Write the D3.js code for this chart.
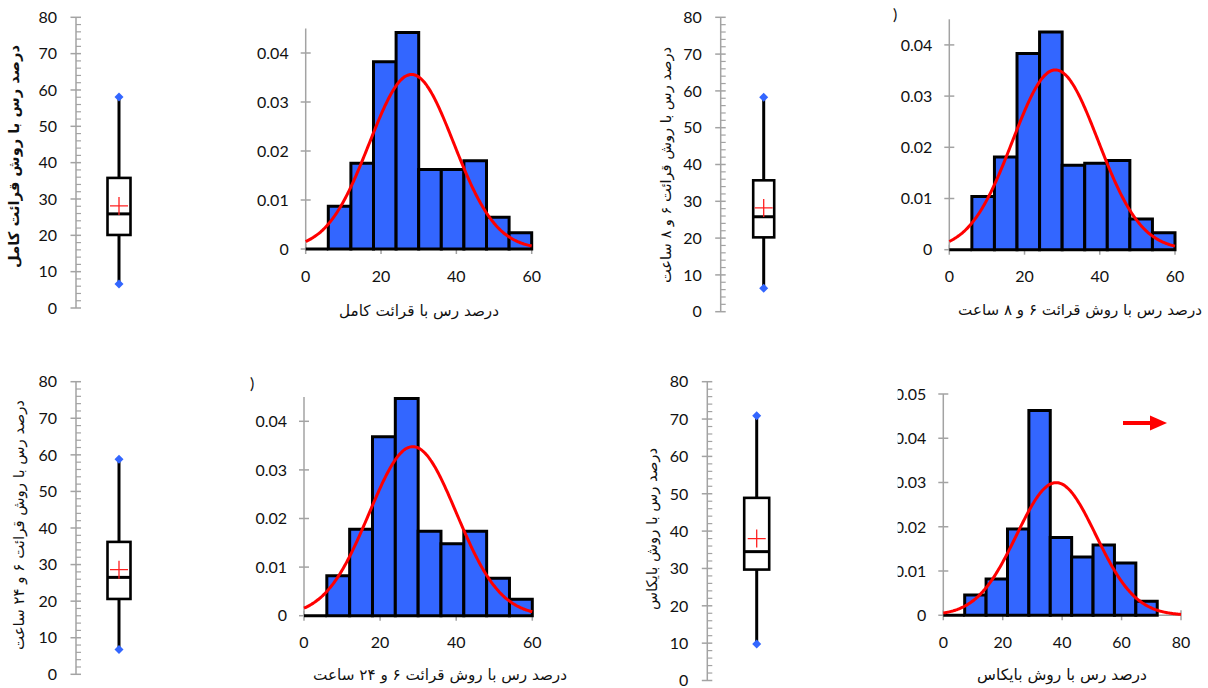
<!DOCTYPE html>
<html>
<head>
<meta charset="utf-8">
<script src="https://cdn.jsdelivr.net/npm/d3@7"></script>
<style>
  html, body { margin: 0; padding: 0; background: #fff; }
  svg { display: block; }
</style>
</head>
<body>
<svg id="chart" width="1208" height="688"></svg>
<script>
// ---- Data: clay percentage measured by four methods ----
const methods = ["full", "h6_8", "h6_24", "bouyoucos"];

const yTitles = [
  "درصد رس با روش قرائت کامل",
  "درصد رس با روش قرائت ۶ و ۸ ساعت",
  "درصد رس با روش قرائت ۶ و ۲۴ ساعت",
  "درصد رس با روش بایکاس"
];
const xTitles = [
  "درصد رس با قرائت کامل",
  "درصد رس با روش قرائت ۶ و ۸ ساعت",
  "درصد رس با روش قرائت ۶ و ۲۴ ساعت",
  "درصد رس با روش بایکاس"
];

// box-plot statistics (%)
const whiskerLow  = [6.6, 6.4, 6.8, 9.8];
const quartile1   = [20.1, 20.2, 20.6, 29.7];
const medians     = [25.9, 25.8, 26.5, 34.5];
const quartile3   = [35.8, 35.7, 36.2, 48.9];
const whiskerHigh = [58.1, 58.3, 58.8, 70.9];
const means       = [28.1, 28.2, 28.6, 38.0];
const stdDevs     = [11.2, 11.36, 11.47, 13.31];

// histogram densities, bins start at 0
const binWidths = [6, 6, 6, 7.2];
const densityFull      = [0, 0.0087, 0.0175, 0.0382, 0.0442, 0.0162, 0.0162, 0.0180, 0.0065, 0.0033];
const density6and8     = [0, 0.0104, 0.0181, 0.0383, 0.0425, 0.0165, 0.0169, 0.0174, 0.0060, 0.0033];
const density6and24    = [0, 0.0082, 0.0178, 0.0368, 0.0447, 0.0174, 0.0148, 0.0174, 0.0077, 0.0034];
const densityBouyoucos = [0, 0.0046, 0.0082, 0.0195, 0.0463, 0.0176, 0.0132, 0.0159, 0.0118, 0.0032];
const densities = [densityFull, density6and8, density6and24, densityBouyoucos];

// axis ticks
const boxTickValues = [0, 10, 20, 30, 40, 50, 60, 70, 80];
const histYTicks = [0, 0.01, 0.02, 0.03, 0.04];
const histYTicksWide = [0, 0.01, 0.02, 0.03, 0.04, 0.05];
const histXTicks = [0, 20, 40, 60];
const histXTicksWide = [0, 20, 40, 60, 80];

// ---- Layout ----
const layouts = [
  { box: { axisX: 76, y0: 308, y80: 17.3, cx: 119, w: 23 },
    yTitle: { x: 14, y: 156.5, bold: true, len: 223 },
    hist: { x0: 305.7, x1: 531.7, y0: 249, per: 49, xMax: 60, yMax: 0.045, xt: histXTicks, yt: histYTicks },
    xTitle: { x: 419, y: 316, len: 160 } },
  { box: { axisX: 720.7, y0: 311.7, y80: 17.3, cx: 763.7, w: 21 },
    yTitle: { x: 666, y: 165, bold: false, len: 236 },
    hist: { x0: 949.3, x1: 1175, y0: 249.7, per: 51.2, xMax: 60, yMax: 0.045, xt: histXTicks, yt: histYTicks },
    xTitle: { x: 1080, y: 315, len: 244 } },
  { box: { axisX: 76, y0: 674.3, y80: 381.7, cx: 119, w: 23 },
    yTitle: { x: 19, y: 525, bold: false, len: 250 },
    hist: { x0: 304, x1: 532.3, y0: 615.7, per: 48.6, xMax: 60, yMax: 0.045, xt: histXTicks, yt: histYTicks },
    xTitle: { x: 440, y: 680, len: 254 } },
  { box: { axisX: 707.3, y0: 680.5, y80: 381.7, cx: 756.7, w: 25 },
    yTitle: { x: 652, y: 529, bold: false, len: 162 },
    hist: { x0: 943.3, x1: 1181, y0: 615.3, per: 44.26, xMax: 80, yMax: 0.05, xt: histXTicksWide, yt: histYTicksWide, clipFrame: true },
    xTitle: { x: 1062, y: 680, len: 170 } }
];

const numFont = "Lato, 'Liberation Sans', sans-serif";
const faFont = "'DejaVu Sans', sans-serif";
const axisGray = "#a3a3a3";
const textColor = "#111";
const barBlue = "#3366ff";

const svg = d3.select("#chart");
svg.append("rect").attr("width", 1208).attr("height", 688).attr("fill", "#fff");

const defs = svg.append("defs");

// scale a text's font size so it spans the wanted length
function fitText(sel, base, len) {
  const w = sel.node().getComputedTextLength();
  if (w > 0) sel.attr("font-size", (base * len / w).toFixed(2));
}

methods.forEach((m, i) => {
  const L = layouts[i];

  // ---------- Box plot ----------
  const B = L.box;
  const y = d3.scaleLinear().domain([0, 80]).range([B.y0, B.y80]);
  const gb = svg.append("g").attr("class", "box-" + m);

  gb.append("line")
    .attr("x1", B.axisX).attr("x2", B.axisX)
    .attr("y1", y(0)).attr("y2", y(80))
    .attr("stroke", axisGray).attr("stroke-width", 1.5);

  gb.selectAll("line.minor")
    .data(d3.range(0, 81, 2).filter(v => v % 10 !== 0))
    .join("line").attr("class", "minor")
    .attr("x1", B.axisX).attr("x2", B.axisX + 5)
    .attr("y1", d => y(d)).attr("y2", d => y(d))
    .attr("stroke", axisGray).attr("stroke-width", 1.2);

  gb.selectAll("line.major")
    .data(boxTickValues)
    .join("line").attr("class", "major")
    .attr("x1", B.axisX - 5.5).attr("x2", B.axisX + 5)
    .attr("y1", d => y(d)).attr("y2", d => y(d))
    .attr("stroke", axisGray).attr("stroke-width", 1.5);

  gb.selectAll("text.tick")
    .data(boxTickValues)
    .join("text").attr("class", "tick")
    .attr("x", B.axisX - 19).attr("y", d => y(d)).attr("dy", "0.36em")
    .attr("text-anchor", "end")
    .attr("font-family", numFont).attr("font-size", 16)
    .attr("fill", textColor)
    .text(d => d);

  // whiskers
  gb.append("line")
    .attr("x1", B.cx).attr("x2", B.cx)
    .attr("y1", y(quartile3[i])).attr("y2", y(whiskerHigh[i]))
    .attr("stroke", "#000").attr("stroke-width", 3);
  gb.append("line")
    .attr("x1", B.cx).attr("x2", B.cx)
    .attr("y1", y(quartile1[i])).attr("y2", y(whiskerLow[i]))
    .attr("stroke", "#000").attr("stroke-width", 3);

  // box
  gb.append("rect")
    .attr("x", B.cx - B.w / 2).attr("width", B.w)
    .attr("y", y(quartile3[i])).attr("height", y(quartile1[i]) - y(quartile3[i]))
    .attr("fill", "#fff").attr("stroke", "#000").attr("stroke-width", 2.6);

  // median
  gb.append("line")
    .attr("x1", B.cx - B.w / 2).attr("x2", B.cx + B.w / 2)
    .attr("y1", y(medians[i])).attr("y2", y(medians[i]))
    .attr("stroke", "#000").attr("stroke-width", 3);

  // mean
  const my = y(means[i]);
  gb.append("path")
    .attr("d", `M${B.cx - 9},${my}H${B.cx + 9}M${B.cx},${my - 9}V${my + 9}`)
    .attr("stroke", "#ff2020").attr("stroke-width", 1.3).attr("fill", "none");

  // whisker-end markers
  gb.selectAll("path.extreme")
    .data([whiskerLow[i], whiskerHigh[i]])
    .join("path").attr("class", "extreme")
    .attr("d", d => {
      const yy = y(d), r = 4.5;
      return `M${B.cx},${yy - r}L${B.cx + r},${yy}L${B.cx},${yy + r}L${B.cx - r},${yy}Z`;
    })
    .attr("fill", barBlue);

  // y title
  const t = L.yTitle;
  const yt = gb.append("text")
    .attr("transform", `translate(${t.x},${t.y}) rotate(-90)`)
    .attr("text-anchor", "middle").attr("dy", "0.35em")
    .attr("font-family", faFont).attr("font-size", 15)
    .attr("font-weight", t.bold ? "bold" : "normal")
    .attr("fill", textColor)
    .text(yTitles[i]);
  fitText(yt, 15, t.len);

  // ---------- Histogram ----------
  const H = L.hist;
  const x = d3.scaleLinear().domain([0, H.xMax]).range([H.x0, H.x1]);
  const yh = d3.scaleLinear().domain([0, H.yMax]).range([H.y0, H.y0 - H.per * H.yMax * 100]);
  const gh = svg.append("g").attr("class", "hist-" + m);

  // axes lines
  gh.append("line")
    .attr("x1", x(0)).attr("x2", x(H.xMax)).attr("y1", yh(0)).attr("y2", yh(0))
    .attr("stroke", axisGray).attr("stroke-width", 1.5);
  gh.append("line")
    .attr("x1", x(0)).attr("x2", x(0)).attr("y1", yh(0)).attr("y2", yh(H.yMax))
    .attr("stroke", axisGray).attr("stroke-width", 1.5);

  gh.selectAll("line.xt").data(H.xt).join("line").attr("class", "xt")
    .attr("x1", d => x(d)).attr("x2", d => x(d))
    .attr("y1", yh(0) - 5).attr("y2", yh(0) + 5)
    .attr("stroke", axisGray).attr("stroke-width", 1.5);
  gh.selectAll("line.yt").data(H.yt).join("line").attr("class", "yt")
    .attr("x1", x(0) - 5).attr("x2", x(0) + 5)
    .attr("y1", d => yh(d)).attr("y2", d => yh(d))
    .attr("stroke", axisGray).attr("stroke-width", 1.5);

  gh.selectAll("text.xl").data(H.xt).join("text").attr("class", "xl")
    .attr("x", d => x(d)).attr("y", yh(0) + 32.5)
    .attr("text-anchor", "middle")
    .attr("font-family", numFont).attr("font-size", 16).attr("fill", textColor)
    .text(d => d);
  const yLabels = gh.selectAll("text.yl").data(H.yt).join("text").attr("class", "yl")
    .attr("x", x(0) - 17).attr("y", d => yh(d)).attr("dy", "0.36em")
    .attr("text-anchor", "end")
    .attr("font-family", numFont).attr("font-size", 16).attr("fill", textColor)
    .text(d => d === 0 ? "0" : d3.format(".2f")(d));

  // this panel's frame trims the leading digit of its widest tick labels
  if (H.clipFrame) {
    let left = Infinity;
    yLabels.each(function () { left = Math.min(left, this.getBBox().x); });
    const cx = left + 3;
    defs.append("clipPath").attr("id", "clip-" + m)
      .append("rect").attr("x", cx).attr("y", 340).attr("width", 1208 - cx).attr("height", 348);
    gh.attr("clip-path", `url(#clip-${m})`);
  }

  // bars
  const bw = binWidths[i];
  gh.selectAll("path.bar").data(densities[i]).join("path").attr("class", "bar")
    .attr("d", (d, k) => {
      const xa = x(k * bw), xb = x((k + 1) * bw), y0 = yh(0), y1 = yh(d);
      return `M${xa},${y0}V${y1}H${xb}V${y0}Z`;
    })
    .attr("fill", barBlue).attr("stroke", "#000").attr("stroke-width", 3)
    .attr("stroke-linejoin", "miter");

  // fitted normal density
  const mu = means[i], sd = stdDevs[i];
  const pdf = v => Math.exp(-((v - mu) ** 2) / (2 * sd * sd)) / (sd * Math.sqrt(2 * Math.PI));
  const xs = d3.range(0, H.xMax + 0.001, H.xMax / 240);
  gh.append("path")
    .datum(xs)
    .attr("d", d3.line().x(v => x(v)).y(v => yh(pdf(v))).curve(d3.curveMonotoneX))
    .attr("fill", "none").attr("stroke", "#ff0000").attr("stroke-width", 3);

  // x title
  const xtitle = gh.append("text")
    .attr("x", L.xTitle.x).attr("y", L.xTitle.y)
    .attr("text-anchor", "middle")
    .attr("font-family", faFont).attr("font-size", 15).attr("fill", textColor)
    .text(xTitles[i]);
  fitText(xtitle, 15, L.xTitle.len);
});

// stray brackets from clipped panel captions
svg.append("text").attr("x", 893).attr("y", 20)
  .attr("font-family", numFont).attr("font-size", 16).attr("fill", textColor).text(")");
svg.append("text").attr("x", 250).attr("y", 389)
  .attr("font-family", numFont).attr("font-size", 16).attr("fill", textColor).text(")");

// red arrow pointing right in the Bouyoucos histogram
const arrow = svg.append("g").attr("class", "arrow");
arrow.append("line").attr("x1", 1123).attr("x2", 1152).attr("y1", 423).attr("y2", 423)
  .attr("stroke", "#ff0000").attr("stroke-width", 4);
arrow.append("path").attr("d", "M1150,415.5L1167,423L1150,430.5Z").attr("fill", "#ff0000");
</script>
</body>
</html>
